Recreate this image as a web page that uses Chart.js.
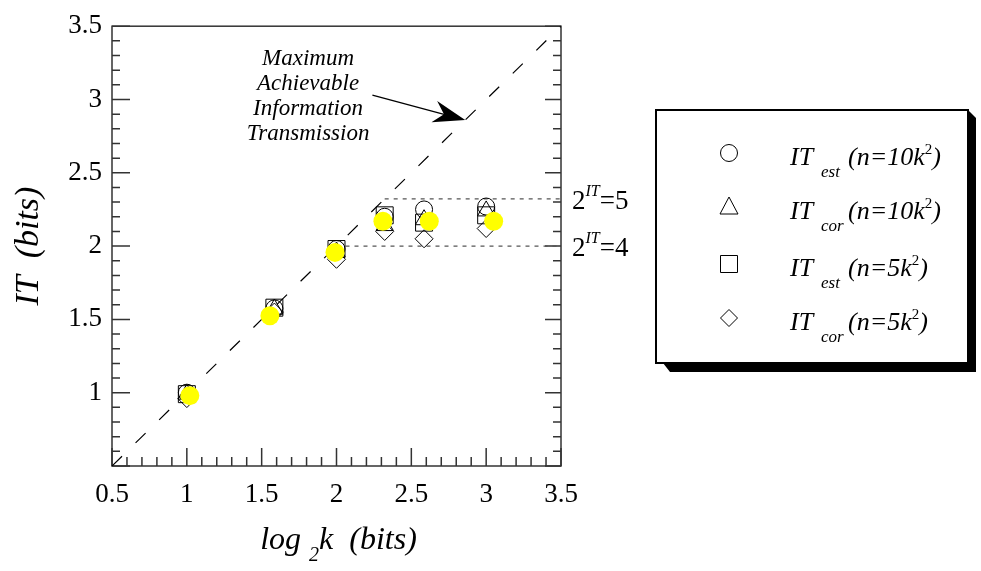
<!DOCTYPE html>
<html>
<head>
<meta charset="utf-8">
<script src="https://cdn.jsdelivr.net/npm/chart.js@4.4.0/dist/chart.umd.min.js"></script>
<style>
  html, body { margin: 0; padding: 0; background: #fff; }
</style>
</head>
<body>
<canvas id="chart" width="981" height="571"></canvas>
<script>
// data
const log2k = [1, 1.585, 2, 2.322, 2.585, 3];
const itEst10 = [1.00, 1.575, 1.98, 2.20, 2.25, 2.27];
const itCor10 = [0.99, 1.57, 1.96, 2.14, 2.18, 2.24];
const itEst5 = [0.99, 1.58, 1.98, 2.21, 2.16, 2.21];
const itCor5 = [0.96, 1.55, 1.91, 2.10, 2.05, 2.12];
const yellowX = [1.02, 1.555, 1.99, 2.31, 2.62, 3.05];
const yellowY = [0.98, 1.525, 1.957, 2.17, 2.17, 2.17];
const limitLevels = [2.3219, 2]; // 2^IT = 5, 2^IT = 4
const limitLabels = ['5', '4'];
const diagonal = [0.5, 3.5];
const xTickLabels = ['0.5', '1', '1.5', '2', '2.5', '3', '3.5'];
const yTickLabels = ['1', '1.5', '2', '2.5', '3', '3.5'];

const SERIF = '"Liberation Serif", "DejaVu Serif", serif';
Chart.defaults.font.family = SERIF;

const pts = (xs, ys) => xs.map((x, i) => ({ x: x, y: ys[i] }));

function tickCb(list) {
  return function (value) {
    const s = String(Number(value.toFixed(1)));
    return list.includes(s) ? s : '';
  };
}

// draw a run of text pieces left to right: [text, size, dy, italic]
function textRun(ctx, parts, x, y) {
  let cx = x;
  parts.forEach(p => {
    ctx.font = (p[3] ? 'italic ' : '') + p[1] + 'px ' + SERIF;
    ctx.fillText(p[0], cx, y + p[2]);
    cx += ctx.measureText(p[0]).width;
  });
  return cx;
}

function symbol(ctx, style, x, y) {
  ctx.beginPath();
  if (style === 'circle') {
    ctx.arc(x, y, 8.5, 0, Math.PI * 2);
  } else if (style === 'triangle') {
    ctx.moveTo(x, y - 10); ctx.lineTo(x + 9, y + 7); ctx.lineTo(x - 9, y + 7); ctx.closePath();
  } else if (style === 'rect') {
    ctx.rect(x - 8.5, y - 8.5, 17, 17);
  } else {
    ctx.moveTo(x, y - 8.5); ctx.lineTo(x + 8.5, y); ctx.lineTo(x, y + 8.5); ctx.lineTo(x - 8.5, y); ctx.closePath();
  }
  ctx.stroke();
}

const framePlugin = {
  id: 'frame',
  beforeDatasetsDraw(chart) {
    const ctx = chart.ctx;
    const a = chart.chartArea;
    const sx = chart.scales.x, sy = chart.scales.y;
    ctx.save();
    ctx.strokeStyle = '#333';
    ctx.lineWidth = 1.5;
    ctx.strokeRect(a.left, a.top, a.right - a.left, a.bottom - a.top);
    ctx.beginPath();
    sx.ticks.forEach(t => {
      const major = Math.round(t.value * 10) % 5 === 0;
      const px = sx.getPixelForValue(t.value);
      ctx.moveTo(px, a.bottom);
      ctx.lineTo(px, a.bottom - (major ? 18 : 9));
    });
    sy.ticks.forEach(t => {
      const major = Math.round(t.value * 10) % 5 === 0;
      const py = sy.getPixelForValue(t.value);
      ctx.moveTo(a.left, py);
      ctx.lineTo(a.left + (major ? 18 : 8), py);
      ctx.moveTo(a.right, py);
      ctx.lineTo(a.right - (major ? 16 : 8), py);
    });
    ctx.stroke();
    ctx.restore();
  },
  afterDraw(chart) {
    const ctx = chart.ctx;
    const a = chart.chartArea;
    const sx = chart.scales.x, sy = chart.scales.y;
    ctx.save();
    ctx.fillStyle = '#000';
    ctx.strokeStyle = '#000';

    // annotation
    ctx.textAlign = 'center';
    ctx.textBaseline = 'alphabetic';
    ctx.font = 'italic 23px ' + SERIF;
    const ax = sx.getPixelForValue(1.81);
    ['Maximum', 'Achievable', 'Information', 'Transmission'].forEach((s, i) => {
      ctx.fillText(s, ax, 65 + i * 25);
    });
    // arrow
    const x0 = sx.getPixelForValue(2.24), y0 = sy.getPixelForValue(3.03);
    const tx = sx.getPixelForValue(2.86), ty = sy.getPixelForValue(2.86);
    const len = Math.hypot(tx - x0, ty - y0);
    const dx = (tx - x0) / len, dy = (ty - y0) / len;
    const nx = -dy, ny = dx;
    ctx.lineWidth = 1.3;
    ctx.beginPath();
    ctx.moveTo(x0, y0);
    ctx.lineTo(tx - dx * 20, ty - dy * 20);
    ctx.stroke();
    ctx.beginPath();
    ctx.moveTo(tx, ty);
    ctx.lineTo(tx - dx * 32 + nx * 11, ty - dy * 32 + ny * 11);
    ctx.lineTo(tx - dx * 22, ty - dy * 22);
    ctx.lineTo(tx - dx * 32 - nx * 11, ty - dy * 32 - ny * 11);
    ctx.closePath();
    ctx.fill();

    // 2^IT labels
    ctx.textAlign = 'left';
    limitLevels.forEach((v, i) => {
      const py = sy.getPixelForValue(v) + 10;
      textRun(ctx, [['2', 27, 0, false], ['IT', 16, -13, true], ['=' + limitLabels[i], 27, 0, false]], a.right + 11, py);
    });

    // axis titles
    const xc = (a.left + a.right) / 2;
    ctx.font = 'italic 32px ' + SERIF;
    const xParts = [['log ', 32, 0, true], ['2', 20, 12, true], ['k  (bits)', 32, 0, true]];
    let w = 0;
    xParts.forEach(p => { ctx.font = 'italic ' + p[1] + 'px ' + SERIF; w += ctx.measureText(p[0]).width; });
    textRun(ctx, xParts, xc - w / 2 + 2, 549);

    ctx.save();
    ctx.translate(38, (a.top + a.bottom) / 2);
    ctx.rotate(-Math.PI / 2);
    ctx.textAlign = 'center';
    ctx.font = 'italic 34px ' + SERIF;
    ctx.fillText('IT  (bits)', 0, 0);
    ctx.restore();

    // legend box
    const L = 656, T = 110, R = 968, B = 363;
    ctx.fillStyle = '#000';
    ctx.beginPath();
    ctx.moveTo(L + 7, B); ctx.lineTo(L + 14, B + 9); ctx.lineTo(R + 8, B + 9);
    ctx.lineTo(R + 8, T + 8); ctx.lineTo(R, T); ctx.lineTo(R, B); ctx.closePath();
    ctx.fill();
    ctx.fillStyle = '#fff';
    ctx.fillRect(L, T, R - L, B - T);
    ctx.lineWidth = 2;
    ctx.strokeRect(L, T, R - L, B - T);

    const styles = ['circle', 'triangle', 'rect', 'rectRot'];
    const subs = ['est', 'cor', 'est', 'cor'];
    const ns = ['10', '10', '5', '5'];
    const rowY = [153, 207, 264, 318];
    ctx.fillStyle = '#000';
    ctx.lineWidth = 1;
    rowY.forEach((ry, i) => {
      symbol(ctx, styles[i], 729, ry);
      textRun(ctx, [['IT', 26, 0, true]], 790, ry + 12);
      textRun(ctx, [[subs[i], 17, 0, true]], 821, ry + 24);
      textRun(ctx, [['(n=' + ns[i] + 'k', 26, 0, true], ['2', 15, -11, false], [')', 26, 0, true]], 848, ry + 12);
    });
    ctx.restore();
  }
};

const hollow = (data, style, r) => ({
  data: data, pointStyle: style, pointRadius: r,
  backgroundColor: 'rgba(0,0,0,0)', borderColor: '#000', borderWidth: 1, order: 2
});

new Chart(document.getElementById('chart'), {
  type: 'scatter',
  data: {
    datasets: [
      { data: pts(yellowX, yellowY), pointStyle: 'circle', pointRadius: 9.5,
        backgroundColor: '#ffff00', borderWidth: 0, order: 0 },
      hollow(pts(log2k, itEst10), 'circle', 8.5),
      hollow(pts(log2k, itCor10), 'triangle', 10),
      hollow(pts(log2k, itEst5), 'rect', 12),
      hollow(pts(log2k, itCor5), 'rectRot', 9),
      { type: 'line', data: pts(diagonal, diagonal), borderColor: '#000', borderWidth: 1.2,
        borderDash: [14, 19], pointRadius: 0, order: 10 },
      { type: 'line', data: pts([limitLevels[0], 3.5], [limitLevels[0], limitLevels[0]]),
        borderColor: '#555', borderWidth: 1.2, borderDash: [4, 5], pointRadius: 0, order: 9 },
      { type: 'line', data: pts([limitLevels[1], 3.5], [limitLevels[1], limitLevels[1]]),
        borderColor: '#555', borderWidth: 1.2, borderDash: [4, 5], pointRadius: 0, order: 9 }
    ]
  },
  options: {
    responsive: false,
    animation: false,
    events: [],
    layout: { padding: { top: 21, right: 420, left: 0, bottom: 0 } },
    plugins: { legend: { display: false }, tooltip: { enabled: false } },
    scales: {
      x: {
        type: 'linear', min: 0.5, max: 3.5,
        grid: { display: false, drawTicks: false },
        border: { display: false },
        ticks: { stepSize: 0.1, autoSkip: false, maxRotation: 0, padding: 13, color: '#000',
                 font: { size: 27 }, callback: tickCb(xTickLabels) },
        afterFit(s) { s.height = 105; }
      },
      y: {
        type: 'linear', min: 0.5, max: 3.5,
        grid: { display: false, drawTicks: false },
        border: { display: false },
        ticks: { stepSize: 0.1, autoSkip: false, padding: 10, color: '#000',
                 font: { size: 27 }, callback: tickCb(yTickLabels) },
        afterFit(s) { s.width = 112; }
      }
    }
  },
  plugins: [framePlugin]
});
</script>
</body>
</html>
